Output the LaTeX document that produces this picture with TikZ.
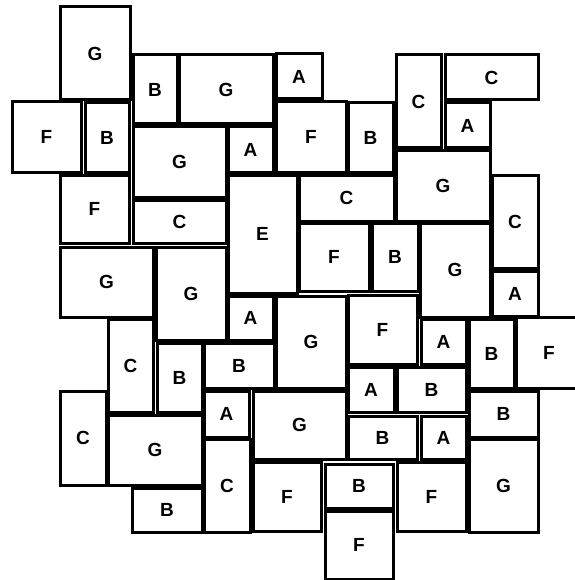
\documentclass[tikz,border=0pt]{standalone}
\usepackage{fontspec}
\setmainfont{Liberation Sans}
\tikzset{bx/.style={draw=black, line width=3pt, fill=white, inner sep=0pt, font=\bfseries\fontsize{19}{19}\selectfont}}
\newcommand\rb[6]{\node[bx, minimum width={(#4-#2)*1pt}, minimum height={(#5-#3)*1pt}] (#1) at ({(#2+#4)/2},{-(#3+#5)/2}) {#6};}
\begin{document}
\begin{tikzpicture}[x=1pt,y=1pt]
\useasboundingbox (0,0) rectangle (574,-580);
\rb{G1}{60}{7}{130}{100}{G}
\rb{B1}{133}{55}{177}{124}{B}
\rb{G2}{179}{55}{273}{124}{G}
\rb{A1}{276}{54}{322}{99}{A}
\rb{F1}{12}{102}{81}{172}{F}
\rb{B2}{85}{103}{129}{172}{B}
\rb{G3}{133}{127}{226}{197}{G}
\rb{A2}{228}{127}{273}{172}{A}
\rb{F2}{276}{102}{346}{172}{F}
\rb{B3}{348}{103}{393}{172}{B}
\rb{C1}{396}{55}{441}{148}{C}
\rb{C2}{445}{55}{538}{100}{C}
\rb{A3}{445}{103}{490}{148}{A}
\rb{G4}{396}{151}{490}{221}{G}
\rb{C3}{299}{175}{394}{221}{C}
\rb{C4}{492}{175}{538}{268}{C}
\rb{F3}{299}{223}{369}{291}{F}
\rb{B4}{372}{223}{418}{291}{B}
\rb{G5}{420}{223}{490}{317}{G}
\rb{A4}{492}{271}{538}{316}{A}
\rb{F4}{60}{175}{129}{243}{F}
\rb{C5}{133}{200}{226}{243}{C}
\rb{E}{228}{175}{297}{293}{E}
\rb{G6}{60}{247}{153}{317}{G}
\rb{G7}{156}{247}{226}{340}{G}
\rb{A5}{228}{296}{273}{340}{A}
\rb{G8}{276}{296}{346}{388}{G}
\rb{F5}{348}{295}{417}{364}{F}
\rb{A6}{421}{319}{466}{364}{A}
\rb{B5}{469}{319}{514}{388}{B}
\rb{F6}{516}{317}{582}{388}{F}
\rb{A7}{348}{367}{394}{412}{A}
\rb{B6}{397}{367}{466}{412}{B}
\rb{B7}{348}{416}{417}{459}{B}
\rb{A8}{421}{416}{466}{459}{A}
\rb{B8}{469}{391}{538}{437}{B}
\rb{G9}{469}{439}{538}{532}{G}
\rb{G10}{253}{391}{346}{459}{G}
\rb{F7}{253}{462}{321}{531}{F}
\rb{B9}{325}{464}{393}{508}{B}
\rb{F8}{325}{511}{393}{579}{F}
\rb{F9}{397}{462}{466}{531}{F}
\rb{C6}{108}{319}{153}{412}{C}
\rb{B10}{157}{343}{202}{412}{B}
\rb{B11}{204}{343}{274}{388}{B}
\rb{A9}{204}{391}{249}{437}{A}
\rb{C7}{60}{391}{106}{485}{C}
\rb{G11}{108}{415}{202}{485}{G}
\rb{B12}{132}{488}{202}{532}{B}
\rb{C8}{204}{439}{250}{532}{C}
\end{tikzpicture}
\end{document}
